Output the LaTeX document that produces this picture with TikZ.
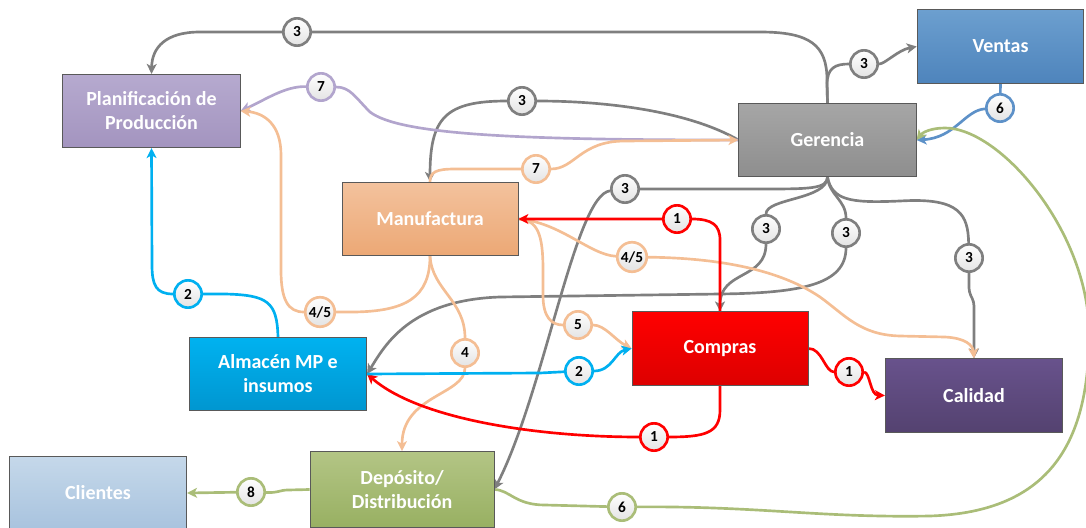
\documentclass[tikz,border=0pt]{standalone}
\usepackage{fontspec}
\setmainfont{Carlito}
\usepackage{xcolor}
\usepackage{tikz}
\usetikzlibrary{arrows.meta,arrows}
\usetikzlibrary{backgrounds}
\definecolor{planTop}{RGB}{182,170,207}
\definecolor{planBot}{RGB}{163,148,191}
\definecolor{ventTop}{RGB}{108,159,207}
\definecolor{ventBot}{RGB}{78,132,188}
\definecolor{gerTop}{RGB}{166,166,166}
\definecolor{gerBot}{RGB}{142,142,142}
\definecolor{manuTop}{RGB}{243,194,157}
\definecolor{manuBot}{RGB}{236,168,117}
\definecolor{almTop}{RGB}{0,178,240}
\definecolor{almBot}{RGB}{0,150,208}
\definecolor{compTop}{RGB}{255,0,0}
\definecolor{compBot}{RGB}{221,0,0}
\definecolor{calTop}{RGB}{104,82,140}
\definecolor{calBot}{RGB}{84,66,112}
\definecolor{cliTop}{RGB}{197,216,234}
\definecolor{cliBot}{RGB}{168,195,222}
\definecolor{depTop}{RGB}{179,197,133}
\definecolor{depBot}{RGB}{152,176,98}
\definecolor{flowgray}{RGB}{127,127,127}
\definecolor{flowpurple}{RGB}{178,165,205}
\definecolor{floworange}{RGB}{244,190,148}
\definecolor{flowred}{RGB}{255,0,0}
\definecolor{flowcyan}{RGB}{0,176,240}
\definecolor{flowblue}{RGB}{93,145,200}
\definecolor{flowgreen}{RGB}{170,189,120}
\tikzset{
  proc/.style={draw=black!65, line width=0.6pt, text=white, align=center,
    font=\fontsize{15}{18}\selectfont\bfseries,
    minimum width=133pt, minimum height=55pt, inner sep=2pt},
  badge/.style={circle, line width=2pt, top color=white, bottom color=black!11,
    font=\fontsize{11.5}{12}\selectfont\bfseries, inner sep=1.3pt, minimum size=20.5pt},
  flow/.style={line width=2pt, -{Stealth[length=7.5pt,width=7.5pt,inset=2pt]}},
}

\begin{document}
\begin{tikzpicture}[x=0.75pt, y=-0.75pt]
\useasboundingbox (0,0) rectangle (1086,528);

% areas
\node[proc, top color=planTop, bottom color=planBot] (plan) at (151.5,111) {Planificación de\\Producción};
\node[proc, top color=ventTop, bottom color=ventBot, minimum width=125pt] (ventas) at (1000.5,46.5) {Ventas};
\node[proc, top color=gerTop, bottom color=gerBot] (ger) at (827.5,140) {Gerencia};
\node[proc, top color=manuTop, bottom color=manuBot, minimum width=132pt] (manu) at (430,219) {Manufactura};
\node[proc, top color=almTop, bottom color=almBot] (alm) at (278,374) {Almacén MP e\\insumos};
\node[proc, top color=compTop, bottom color=compBot, minimum width=132pt] (comp) at (720,348.5) {Compras};
\node[proc, top color=calTop, bottom color=calBot] (cal) at (974,395.5) {Calidad};
\node[proc, top color=cliTop, bottom color=cliBot] (cli) at (98,493) {Clientes};
\node[proc, top color=depTop, bottom color=depBot, minimum width=138pt, minimum height=57pt] (dep) at (402,489.5) {Depósito/\\Distribución};

% numbered badges
\node[badge, draw=flowgray] (n3plan) at (297,32) {3};
\node[badge, draw=flowpurple] (n7plan) at (321,87) {7};
\node[badge, draw=flowgray] (n3manu) at (522,101) {3};
\node[badge, draw=floworange] (n7ger) at (536,169) {7};
\node[badge, draw=flowgray] (n3vent) at (864,64) {3};
\node[badge, draw=flowblue] (n6ger) at (1000,108) {6};
\node[badge, draw=flowgray] (n3dep) at (625,189) {3};
\node[badge, draw=flowred] (n1manu) at (677,219) {1};
\node[badge, draw=flowgray] (n3comp) at (766,229) {3};
\node[badge, draw=flowgray] (n3alm) at (846,233) {3};
\node[badge, draw=flowgray] (n3cal) at (969,258) {3};
\node[badge, draw=floworange] (n45cal) at (632,257) {4/5};
\node[badge, draw=flowcyan] (n2plan) at (188,294) {2};
\node[badge, draw=floworange] (n45plan) at (320,312) {4/5};
\node[badge, draw=floworange] (n5comp) at (578,325) {5};
\node[badge, draw=floworange] (n4dep) at (465,353) {4};
\node[badge, draw=flowcyan] (n2comp) at (579,371) {2};
\node[badge, draw=flowred] (n1cal) at (849,372) {1};
\node[badge, draw=flowred] (n1alm) at (654,437) {1};
\node[badge, draw=flowgreen] (n8cli) at (251,492) {8};
\node[badge, draw=flowgreen] (n6loop) at (622,507) {6};

\begin{pgfonlayer}{background}
% 3: Gerencia
\draw[flow, flowgray] (ger.north) -- (827,80) .. controls (827,45) and (810,32) .. (760,32) -- (n3plan) -- (200,32) .. controls (165,32) and (152,48) .. (plan.north);
\draw[flow, flowgray] (ger.north) -- (827,85) .. controls (827,68) and (835,64) .. (n3vent) .. controls (885,64) and (898,50) .. (ventas.west);
\draw[flow, flowgray] (ger.west) .. controls (690,112) and (610,101) .. (n3manu) .. controls (445,101) and (430,118) .. (manu.north);
\draw[flow, flowgray] (ger.south) .. controls (827,189) and (810,189) .. (760,189) -- (n3dep) .. controls (575,195) and (545,390) .. (dep.east);
\draw[flow, flowgray] (ger.south) .. controls (827,200) and (766,198) .. (n3comp) .. controls (766,280) and (720,270) .. (comp.north);
\draw[flow, flowgray] (ger.south) .. controls (829,195) and (846,200) .. (n3alm) .. controls (846,285) and (800,293) .. (720,294) -- (500,297) .. controls (410,300) and (385,345) .. (alm.east);
\draw[flow, flowgray, rounded corners=3pt] (ger.south) .. controls (832,200) and (850,203) .. (900,201) .. controls (960,198) and (968,215) .. (n3cal) -- (969,292) -- (974,302) -- (cal.north);
% 7
\draw[flow, flowpurple] (ger.west) .. controls (520,140) and (400,135) .. (370,112) .. controls (355,97) and (350,87) .. (n7plan) .. controls (285,86) and (265,100) .. (plan.east);
\draw[flow, floworange] (manu.north) .. controls (430,172) and (436,169) .. (455,169) -- (n7ger) .. controls (575,169) and (580,141) .. (625,141) -- (ger.west);
% 4/5, 4, 5
\draw[flow, floworange] (manu.south) .. controls (430,298) and (405,311) .. (355,312) -- (n45plan) .. controls (288,312) and (281,300) .. (281,270) -- (281,155) .. controls (281,125) and (265,113) .. (plan.east);
\draw[flow, floworange] (manu.south) .. controls (432,290) and (465,300) .. (n4dep) .. controls (465,395) and (402,395) .. (dep.north);
\draw[flow, floworange] (manu.east) .. controls (538,220) and (543,235) .. (543,270) -- (543,295) .. controls (543,318) and (552,325) .. (n5comp) .. controls (605,325) and (615,340) .. (comp.west);
\draw[flow, floworange] (manu.east) .. controls (560,222) and (590,255) .. (n45cal) .. controls (720,258) and (780,270) .. (820,297) .. controls (845,315) and (860,335) .. (900,336) -- (945,337) .. controls (965,338) and (973,345) .. (cal.north);
% 1: Compras
\draw[flow, flowred] (comp.north) -- (720,240) .. controls (720,225) and (712,219) .. (n1manu) -- (manu.east);
\draw[flow, flowred] (comp.east) .. controls (822,348) and (825,372) .. (n1cal) .. controls (870,372) and (870,395) .. (cal.west);
\draw[flow, flowred] (comp.south) -- (720,410) .. controls (720,433) and (705,437) .. (n1alm) .. controls (540,437) and (420,420) .. (alm.east);
% 2: Almacen
\draw[flow, flowcyan] (alm.north) .. controls (277,302) and (268,295) .. (225,294) -- (n2plan) .. controls (156,294) and (152,285) .. (152,265) -- (plan.south);
\draw[flow, flowcyan] (alm.east) -- (540,373) -- (n2comp) .. controls (612,371) and (615,352) .. (comp.west);
% 6, 8
\draw[flow, flowblue] (ventas.south) -- (n6ger) .. controls (965,110) and (955,138) .. (ger.east);
\draw[flow, flowgreen] (dep.west) -- (288,490) .. controls (280,490) and (278,493) .. (n8cli) -- (cli.east);
\draw[flow, flowgreen] (dep.east) .. controls (510,490) and (515,505) .. (545,505) -- (n6loop) .. controls (760,506) and (820,518) .. (930,516) .. controls (1052,512) and (1090,440) .. (1089,330) .. controls (1087,230) and (1000,128) .. (945,128) .. controls (930,128) and (922,133) .. (ger.east);
\end{pgfonlayer}
\end{tikzpicture}
\end{document}
